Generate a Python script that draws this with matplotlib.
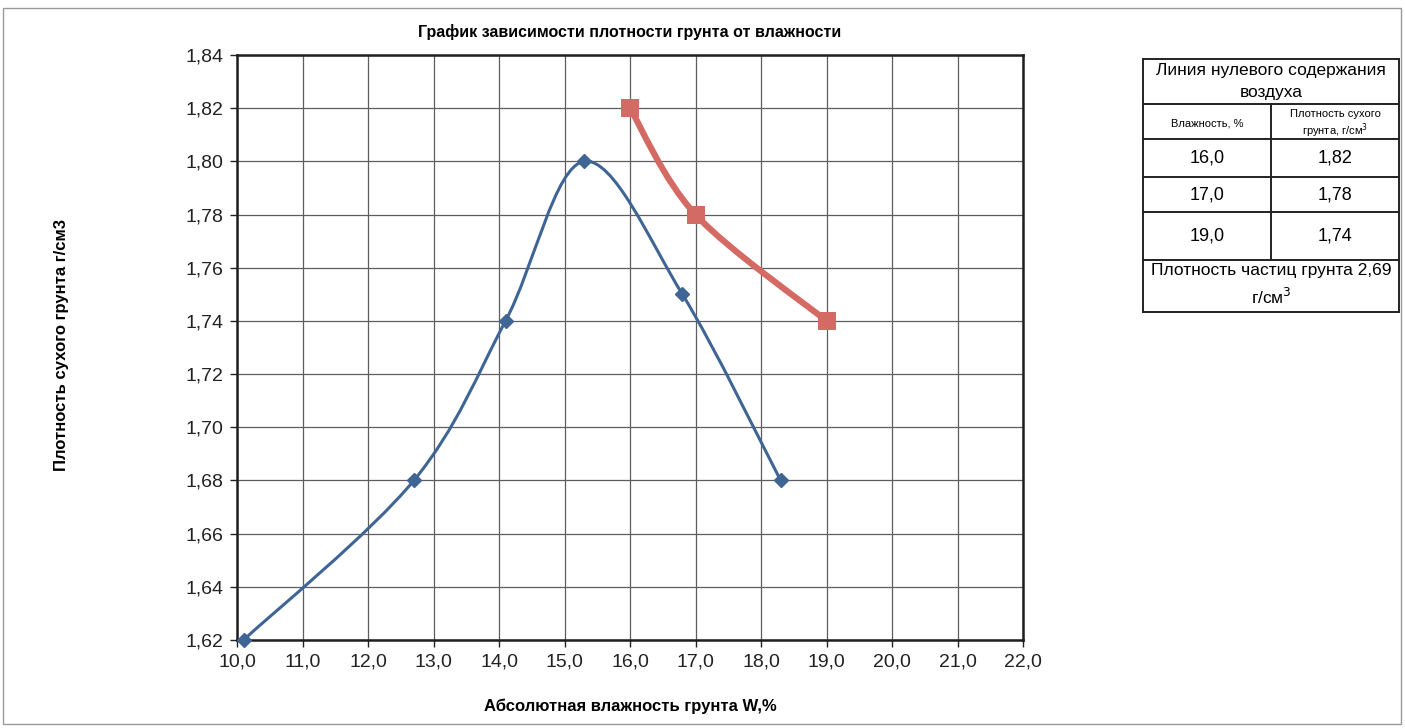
import matplotlib
matplotlib.use("Agg")
import matplotlib.pyplot as plt
from matplotlib.path import Path
from matplotlib.patches import PathPatch, Rectangle
from matplotlib.ticker import FuncFormatter, MultipleLocator
import numpy as np

plt.rcParams['font.family'] = ['Liberation Sans', 'DejaVu Sans']

# Data
w_exp = [10.1, 12.7, 14.1, 15.3, 16.8, 18.3]
rho_exp = [1.62, 1.68, 1.74, 1.80, 1.75, 1.68]
w_zero = [16.0, 17.0, 19.0]
rho_zero = [1.82, 1.78, 1.74]
table_w = ["16,0", "17,0", "19,0"]
table_rho = ["1,82", "1,78", "1,74"]

title = "График зависимости плотности грунта от влажности"
xlabel = "Абсолютная влажность грунта W,%"
ylabel = "Плотность сухого грунта г/см3"

W, H = 1405, 728
fig = plt.figure(figsize=(W / 100, H / 100), dpi=100)
fig.patch.set_facecolor('white')

def fx(px):
    return px / W

def fy(py):
    return 1 - py / H

ax = fig.add_axes([fx(237), fy(640), fx(1023) - fx(237), fy(55) - fy(640)])
ax.set_xlim(10, 22)
ax.set_ylim(1.62, 1.84)
ax.xaxis.set_major_locator(MultipleLocator(1))
ax.yaxis.set_major_locator(MultipleLocator(0.02))
ax.xaxis.set_major_formatter(FuncFormatter(lambda v, p: f"{v:.1f}".replace('.', ',')))
ax.yaxis.set_major_formatter(FuncFormatter(lambda v, p: f"{v:.2f}".replace('.', ',')))
ax.grid(True, color='#5e5e5e', linewidth=0.9)
ax.set_axisbelow(True)
for s in ax.spines.values():
    s.set_linewidth(1.8)
    s.set_color('#1e1e1e')
ax.tick_params(labelsize=14, length=5, width=1, direction='out', colors='#222222', pad=5)


def smooth_path(xs, ys):
    pts = np.column_stack([xs, ys])
    n = len(pts)
    verts = [pts[0]]
    codes = [Path.MOVETO]
    for i in range(n - 1):
        p0 = pts[i - 1] if i > 0 else pts[i]
        p1 = pts[i]
        p2 = pts[i + 1]
        p3 = pts[i + 2] if i + 2 < n else pts[i + 1]
        c1 = p1 + (p2 - p0) / 6.0
        c2 = p2 - (p3 - p1) / 6.0
        verts += [c1, c2, p2]
        codes += [Path.CURVE4] * 3
    return Path(verts, codes)

blue = '#3f6595'
red = '#d46a64'
ax.add_patch(PathPatch(smooth_path(w_exp, rho_exp), facecolor='none', edgecolor=blue, linewidth=2.2, zorder=3))
ax.plot(w_exp, rho_exp, linestyle='none', marker='D', markersize=7.5, color=blue, zorder=4, clip_on=False)
ax.add_patch(PathPatch(smooth_path(w_zero, rho_zero), facecolor='none', edgecolor=red, linewidth=4.5, zorder=3))
ax.plot(w_zero, rho_zero, linestyle='none', marker='s', markersize=12.5, color=red,
        markeredgewidth=0, zorder=4, clip_on=False)

fig.text(fx(630), fy(32), title, ha='center', va='center', fontsize=11.5, fontweight='bold')
fig.text(fx(630), fy(706), xlabel, ha='center', va='center', fontsize=12, fontweight='bold')
fig.text(fx(62), fy(345), ylabel, ha='center', va='center', rotation=90, fontsize=12, fontweight='bold')

# outer chart border
fig.add_artist(Rectangle((fx(3), fy(724)), fx(1401) - fx(3), fy(8) - fy(724), transform=fig.transFigure,
                         fill=False, edgecolor='#999999', linewidth=1.0))

# table
L, M, R = 1143, 1271, 1399
rows_y = [59, 104, 139, 177, 212, 260, 312]

def hline(y, x0, x1):
    fig.add_artist(plt.Line2D([fx(x0), fx(x1)], [fy(y), fy(y)], transform=fig.transFigure, color='#222222', linewidth=1.4))

def vline(x, y0, y1):
    fig.add_artist(plt.Line2D([fx(x), fx(x)], [fy(y0), fy(y1)], transform=fig.transFigure, color='#222222', linewidth=1.4))

for y in rows_y:
    hline(y, L, R)
vline(L, rows_y[0], rows_y[-1])
vline(R, rows_y[0], rows_y[-1])
vline(M, rows_y[1], rows_y[5])

fig.text(fx((L + R) / 2), fy(71), "Линия нулевого содержания", ha='center', va='center', fontsize=12.5)
fig.text(fx((L + R) / 2), fy(92), "воздуха", ha='center', va='center', fontsize=12.5)
fig.text(fx((L + M) / 2), fy(123), "Влажность, %", ha='center', va='center', fontsize=8)
fig.text(fx((M + R) / 2), fy(114), "Плотность сухого", ha='center', va='center', fontsize=8)
fig.text(fx((M + R) / 2), fy(131), "грунта, г/см$^3$", ha='center', va='center', fontsize=8)
for i in range(3):
    yc = (rows_y[2 + i] + rows_y[3 + i]) / 2
    fig.text(fx((L + M) / 2), fy(yc), table_w[i], ha='center', va='center', fontsize=13)
    fig.text(fx((M + R) / 2), fy(yc), table_rho[i], ha='center', va='center', fontsize=13)
fig.text(fx((L + R) / 2), fy(270), "Плотность частиц грунта 2,69", ha='center', va='center', fontsize=12.5)
fig.text(fx((L + R) / 2), fy(297), "г/см$^3$", ha='center', va='center', fontsize=12.5)

fig.savefig("out.png", dpi=100, facecolor='white')
